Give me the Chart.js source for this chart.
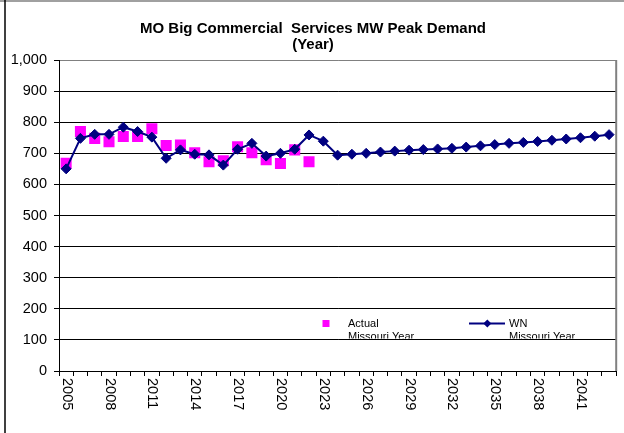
<!DOCTYPE html>
<html>
<head>
<meta charset="utf-8">
<script src="https://cdn.jsdelivr.net/npm/chart.js@4/dist/chart.umd.min.js"></script>
<style>
  html, body { margin: 0; padding: 0; background: #fff; }
  #wrap { width: 624px; height: 433px; position: relative; }
</style>
</head>
<body>
<div id="wrap"><canvas id="c" width="624" height="433"></canvas></div>
<script>
const titleLines = ["MO Big Commercial  Services MW Peak Demand", "(Year)"];
const years = ["2005","2006","2007","2008","2009","2010","2011","2012","2013","2014",
               "2015","2016","2017","2018","2019","2020","2021","2022","2023","2024",
               "2025","2026","2027","2028","2029","2030","2031","2032","2033","2034",
               "2035","2036","2037","2038","2039","2040","2041","2042","2043"];
const shownYearLabels = ["2005","2008","2011","2014","2017","2020","2023","2026","2029","2032","2035","2038","2041"];
const actualValues = [668, 770, 748, 737, 754, 754, 779, 725, 727, 702,
                      673, 676, 721, 702, 679, 667, 711, 673, null, null,
                      null, null, null, null, null, null, null, null, null, null,
                      null, null, null, null, null, null, null, null, null];
const wnValues = [650, 748, 761, 761, 784, 770, 752, 684, 711, 697,
                  695, 662, 713, 732, 691, 700, 713, 759, 739, 694,
                  697, 700, 704, 707, 710, 712, 714, 716, 720, 724,
                  728, 732, 735, 738, 742, 746, 750, 755, 760];
const legendLabels = [["Actual", "Missouri Year"], ["WN", "Missouri Year"]];

const FONT = '"Liberation Sans", Arial, sans-serif';
const NAVY = '#000080';
const MAGENTA = '#FF00FF';

const decorPlugin = {
  id: 'decor',
  beforeDraw(chart) {
    const ctx = chart.ctx;
    ctx.save();
    ctx.fillStyle = '#fff';
    ctx.fillRect(0, 0, chart.width, chart.height);
    ctx.restore();
  },
  afterDatasetsDraw(chart) {
    const ctx = chart.ctx;
    const a = chart.chartArea;
    const xs = chart.scales.x;
    ctx.save();
    // plot area right border
    ctx.strokeStyle = '#808080';
    ctx.lineWidth = 2;
    ctx.beginPath();
    ctx.moveTo(a.right, a.top);
    ctx.lineTo(a.right, a.bottom);
    ctx.stroke();
    // legend box
    const ly = 323.5;
    ctx.fillStyle = '#fff';
    ctx.fillRect(312, 309.5, 300, 29);
    ctx.beginPath();
    ctx.rect(312, 309.5, 300, 29);
    ctx.clip();
    // Actual marker
    ctx.fillStyle = MAGENTA;
    ctx.fillRect(322.5, ly - 3.5, 7, 7);
    // WN marker
    ctx.strokeStyle = NAVY;
    ctx.lineWidth = 2;
    ctx.beginPath();
    ctx.moveTo(469, ly);
    ctx.lineTo(505, ly);
    ctx.stroke();
    ctx.fillStyle = NAVY;
    ctx.beginPath();
    ctx.moveTo(487.3, ly - 4);
    ctx.lineTo(491.3, ly);
    ctx.lineTo(487.3, ly + 4);
    ctx.lineTo(483.3, ly);
    ctx.closePath();
    ctx.fill();
    ctx.fillStyle = '#000';
    ctx.font = '11px ' + FONT;
    ctx.textBaseline = 'alphabetic';
    ctx.textAlign = 'left';
    ctx.fillText(legendLabels[0][0], 348, 327);
    ctx.fillText(legendLabels[0][1], 348, 340);
    ctx.fillText(legendLabels[1][0], 509, 327);
    ctx.fillText(legendLabels[1][1], 509, 340);
    ctx.restore();

    ctx.save();
    // title
    ctx.fillStyle = '#000';
    ctx.font = 'bold 15px ' + FONT;
    ctx.textAlign = 'center';
    ctx.textBaseline = 'middle';
    ctx.fillText(titleLines[0], 313, 29);
    ctx.fillText(titleLines[1], 313, 45);
    // x labels rotated clockwise
    ctx.font = '14.5px ' + FONT;
    ctx.textAlign = 'left';
    ctx.textBaseline = 'middle';
    shownYearLabels.forEach(lbl => {
      const idx = years.indexOf(lbl);
      const x = xs.getPixelForValue(idx);
      ctx.save();
      ctx.translate(x + 0.5, a.bottom + 7);
      ctx.rotate(Math.PI / 2);
      ctx.fillText(lbl, 0, 0);
      ctx.restore();
    });
    // outer frame
    ctx.strokeStyle = '#808080';
    ctx.lineWidth = 1.5;
    ctx.beginPath();
    ctx.moveTo(0, 1);
    ctx.lineTo(624, 1);
    ctx.stroke();
    ctx.strokeStyle = '#000';
    ctx.lineWidth = 1.5;
    ctx.beginPath();
    ctx.moveTo(5, 0);
    ctx.lineTo(5, 433);
    ctx.stroke();
    ctx.restore();
  }
};

new Chart(document.getElementById('c'), {
  type: 'line',
  data: {
    labels: years,
    datasets: [
      {
        label: 'Actual Missouri Year',
        data: actualValues,
        showLine: false,
        pointStyle: 'rect',
        pointRadius: 7.8,
        pointBackgroundColor: MAGENTA,
        pointBorderColor: MAGENTA,
        pointBorderWidth: 0,
        backgroundColor: MAGENTA,
        borderColor: MAGENTA,
        order: 1
      },
      {
        label: 'WN Missouri Year',
        data: wnValues,
        borderColor: NAVY,
        backgroundColor: NAVY,
        borderWidth: 2,
        tension: 0,
        pointStyle: 'rectRot',
        pointRadius: 5,
        pointBackgroundColor: NAVY,
        pointBorderColor: NAVY,
        pointBorderWidth: 1,
        order: 0
      }
    ]
  },
  options: {
    responsive: false,
    animation: false,
    locale: 'en-US',
    layout: { padding: { left: 0, right: 4, top: 60, bottom: 0 } },
    plugins: {
      legend: { display: false },
      title: { display: false },
      tooltip: { enabled: false }
    },
    scales: {
      x: {
        type: 'category',
        offset: true,
        afterFit(scale) { scale.height = 62; },
        grid: {
          offset: true,
          drawOnChartArea: false,
          drawTicks: true,
          tickLength: 5,
          tickColor: '#000',
          color: '#000'
        },
        border: { display: true, color: '#000', width: 1 },
        ticks: { display: false, autoSkip: false }
      },
      y: {
        min: 0,
        max: 1000,
        afterFit(scale) { scale.width = 59; },
        grid: {
          color: ctx => (ctx.tick && ctx.tick.value === 1000) ? '#808080' : '#000',
          lineWidth: 1,
          drawTicks: true,
          tickLength: 5,
          tickColor: '#000'
        },
        border: { display: true, color: '#000', width: 1 },
        ticks: {
          stepSize: 100,
          color: '#000',
          padding: 7,
          font: { family: FONT, size: 14.5 }
        }
      }
    }
  },
  plugins: [decorPlugin]
});
</script>
</body>
</html>
